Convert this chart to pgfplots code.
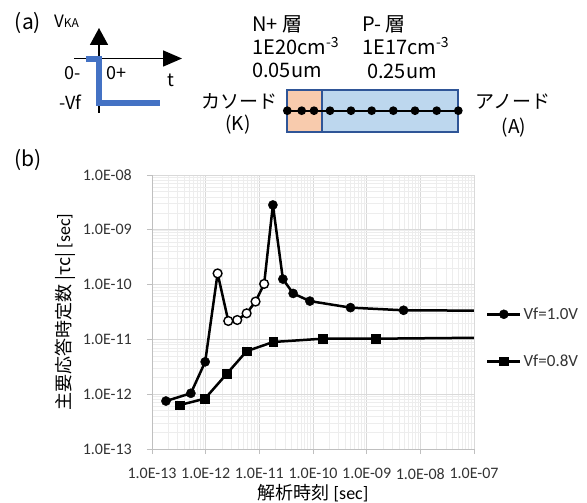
\documentclass[border=0pt]{standalone}
\usepackage{fontspec}
\setmainfont{Carlito}
\newfontfamily\jp{Noto Sans CJK JP}
\usepackage{pgfplots}
\usepackage{pgfplotstable}
\pgfplotsset{compat=1.18}
\usetikzlibrary{arrows.meta}
\definecolor{wave}{HTML}{4472C4}
\definecolor{nreg}{HTML}{F8CBAD}
\definecolor{preg}{HTML}{BDD7EE}
\definecolor{bord}{HTML}{2F5597}
\definecolor{majg}{HTML}{D9D9D9}
\definecolor{ming}{HTML}{EDEDED}
\definecolor{axg}{HTML}{BFBFBF}
\definecolor{tickc}{HTML}{333333}

\pgfplotstableread{
x y t
1.82e-13 7.5e-13 f
5.3e-13 1.04e-12 f
9.8e-13 3.9e-12 f
1.67e-12 1.6e-10 o
2.64e-12 2.17e-11 o
3.88e-12 2.26e-11 o
5.8e-12 2.99e-11 o
8.5e-12 4.9e-11 o
1.23e-11 1.03e-10 o
1.79e-11 2.84e-9 f
2.75e-11 1.26e-10 f
4.27e-11 6.9e-11 f
8.75e-11 5.0e-11 f
5.0e-10 3.8e-11 f
4.87e-9 3.4e-11 f
1e-7 3.35e-11 n
}\tA

\pgfplotstableread{
x y t
3.3e-13 6.35e-13 f
9.7e-13 8.3e-13 f
2.46e-12 2.34e-12 f
5.8e-12 6.1e-12 f
1.82e-11 8.97e-12 f
1.51e-10 1.03e-11 f
1.47e-9 1.03e-11 f
1e-7 1.07e-11 n
}\tB

\newcommand{\etick}{\pgfmathtruncatemacro\ex{round(\tick/ln(10))}\ifnum\ex<-9 1.0E\ex\else 1.0E-0\number-\ex\fi}

\begin{document}
\begin{tikzpicture}
\useasboundingbox (0,0) rectangle (587pt,503pt);
% ---------- overlay (schematic) ----------
\begin{axis}[at={(0pt,0pt)}, anchor=south west, scale only axis,
  width=587pt, height=503pt, xmin=0, xmax=587, ymin=0, ymax=503,
  y dir=reverse, hide axis, clip=false]
\addplot[black, line width=1.6pt, -{Triangle[width=18pt,length=17pt]}] coordinates {(99,113) (99,28)};
\addplot[black, line width=1.6pt, -{Triangle[width=16pt,length=19pt]}] coordinates {(74,58.5) (182,58.5)};
\addplot[wave, line width=6pt, line join=miter] coordinates {(86,59) (99,59) (99,103) (160,103)};
\addplot[fill=nreg, draw=none] coordinates {(287,90) (322,90) (322,132) (287,132)} --cycle;
\addplot[fill=preg, draw=none] coordinates {(322,90) (458,90) (458,132) (322,132)} --cycle;
\addplot[bord, line width=2pt] coordinates {(287,90) (458,90) (458,132) (287,132)} --cycle;
\addplot[bord, line width=2pt] coordinates {(322,90) (322,132)};
\addplot[black, line width=2pt, mark=*, mark size=3.3pt] coordinates {(287.3,110.7) (301.7,110.7) (314,110.7) (330,110.7) (351,110.7) (371.7,110.7) (393.3,110.7) (415,110.7) (436.7,110.7) (458.3,110.7)};
\node[anchor=center] at (axis cs:28,23) {\jp\fontsize{21}{21}\selectfont (a)};
\node[anchor=center] at (axis cs:28,160) {\jp\fontsize{21}{21}\selectfont (b)};
\node[anchor=base west, inner sep=0pt] at (axis cs:54,28) {\jp\fontsize{17}{17}\selectfont V{\fontsize{12}{12}\selectfont KA}};
\node[anchor=base west, inner sep=0pt] at (axis cs:64,80) {\jp\fontsize{18}{18}\selectfont 0-};
\node[anchor=base west, inner sep=0pt] at (axis cs:106,80) {\jp\fontsize{18}{18}\selectfont 0+};
\node[anchor=base west, inner sep=0pt] at (axis cs:167,87) {\jp\fontsize{18}{18}\selectfont t};
\node[anchor=base west, inner sep=0pt] at (axis cs:59,110) {\jp\fontsize{18}{18}\selectfont -Vf};
\node[anchor=base west, inner sep=0pt] at (axis cs:252,31.5) {\jp\fontsize{20}{20}\selectfont N+ 層};
\node[anchor=base west, inner sep=0pt] at (axis cs:252,55) {\jp\fontsize{20}{20}\selectfont 1E20cm\textsuperscript{-3}};
\node[anchor=base west, inner sep=0pt] at (axis cs:252,78) {\jp\fontsize{20}{20}\selectfont 0.05um};
\node[anchor=base west, inner sep=0pt] at (axis cs:362,31.5) {\jp\fontsize{20}{20}\selectfont P- 層};
\node[anchor=base west, inner sep=0pt] at (axis cs:362,55) {\jp\fontsize{20}{20}\selectfont 1E17cm\textsuperscript{-3}};
\node[anchor=base west, inner sep=0pt] at (axis cs:367,79) {\jp\fontsize{20}{20}\selectfont 0.25um};
\node[anchor=center] at (axis cs:239,101) {\jp\fontsize{19}{19}\selectfont カソード};
\node[anchor=center] at (axis cs:238,125) {\jp\fontsize{19}{19}\selectfont (K)};
\node[anchor=center] at (axis cs:513,102) {\jp\fontsize{19}{19}\selectfont アノード};
\node[anchor=center] at (axis cs:514,128) {\jp\fontsize{19}{19}\selectfont (A)};
\end{axis}
% ---------- main chart ----------
\begin{axis}[at={(152pt,54pt)}, anchor=south west, scale only axis,
  width=322pt, height=274pt,
  xmode=log, ymode=log,
  xmin=1e-13, xmax=1e-7, ymin=1e-13, ymax=1e-8,
  axis x line*=bottom, axis y line*=left,
  axis line style={draw=axg, line width=0.8pt, -},
  tick align=outside, major tick length=5pt, minor tick length=0pt,
  tick style={draw=axg, line width=0.8pt},
  grid=both,
  major grid style={draw=majg, line width=0.8pt},
  minor grid style={draw=ming, line width=0.6pt},
  xticklabel={\etick}, yticklabel={\etick},
  ticklabel style={font=\fontsize{16}{16}\selectfont, text=tickc, inner sep=0pt},
  xticklabel style={anchor=north, yshift=-14pt},
  yticklabel style={anchor=east, xshift=-15pt},
  xlabel={{\jp 解析時刻} [sec]},
  ylabel={{\jp 主要応答時定数 |τc|} [sec]},
  label style={font=\fontsize{18}{18}\selectfont},
  xlabel style={at={(axis description cs:0.5,-0.16)}, anchor=center},
  ylabel style={at={(axis description cs:-0.27,0.5)}, anchor=center},
  legend style={at={(1.037,0.4057)}, anchor=west, draw=none, fill=none,
    inner sep=0pt, row sep=32pt, column sep=1pt,
    font=\fontsize{17}{17}\selectfont, text=tickc,
    nodes={inner sep=1pt}},
  legend cell align=left,
  legend image code/.code={\draw[mark repeat=2,mark phase=2,#1] plot coordinates {(0pt,0pt) (16.5pt,0pt) (33pt,0pt)};},
]
\addplot[black, line width=2.5pt, line join=round, forget plot] table[x=x,y=y] {\tA};
\addplot[scatter, only marks, forget plot, scatter src=explicit symbolic,
  scatter/classes={f={mark=*, mark size=4.6pt, draw=black, fill=black},
                   o={mark=*, mark size=4.4pt, draw=black, fill=white, line width=1.4pt},
                   n={mark=none}}] table[x=x,y=y,meta=t] {\tA};
\addplot[black, line width=2.5pt, line join=round, forget plot] table[x=x,y=y] {\tB};
\addplot[scatter, only marks, forget plot, scatter src=explicit symbolic,
  scatter/classes={f={mark=square*, mark size=4.3pt, draw=black, fill=black},
                   n={mark=none}}] table[x=x,y=y,meta=t] {\tB};
\addlegendimage{black, line width=2.5pt, mark=*, mark size=4.5pt, mark options={line width=0.5pt}}
\addlegendentry{Vf=1.0V}
\addlegendimage{black, line width=2.5pt, mark=square*, mark size=4.2pt, mark options={line width=0.5pt}}
\addlegendentry{Vf=0.8V}
\end{axis}
\end{tikzpicture}
\end{document}
